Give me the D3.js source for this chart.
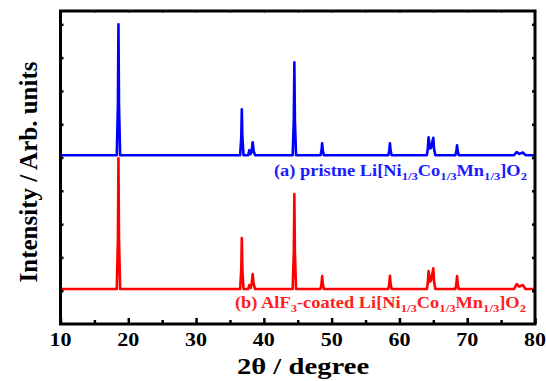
<!DOCTYPE html>
<html>
<head>
<meta charset="utf-8">
<script src="https://cdn.jsdelivr.net/npm/d3@7"></script>
<style>
  html, body { margin: 0; padding: 0; background: #fff; }
  svg text { font-family: "Liberation Serif", "Times New Roman", serif; font-weight: bold; }
</style>
</head>
<body>
<svg id="chart" width="546" height="381"></svg>
<script>
// 2θ axis ticks
const xTicks = [10, 20, 30, 40, 50, 60, 70, 80];
const xMinorTicks = [15, 25, 35, 45, 55, 65, 75];

// pattern points [2θ, intensity] (baseline = 0)
const pristine = [
  [10, 0], [18.3, 0], [18.47, 150], [18.55, 393], [18.63, 150], [18.8, 0],
  [36.5, 0], [36.67, 55], [36.75, 138], [36.83, 55], [37.0, 0],
  [37.7, 0], [37.85, 15], [38.05, 3], [38.2, 12], [38.35, 39], [38.5, 12], [38.7, 0],
  [44.25, 0], [44.42, 105], [44.5, 279], [44.58, 105], [44.75, 0],
  [48.35, 0], [48.5, 14], [48.6, 36], [48.7, 14], [48.85, 0],
  [58.35, 0], [58.5, 14], [58.6, 36], [58.7, 14], [58.85, 0],
  [64.05, 0], [64.2, 22], [64.3, 54], [64.5, 20], [64.65, 22], [65.0, 52], [65.1, 20], [65.3, 0],
  [68.25, 0], [68.4, 12], [68.5, 30], [68.6, 12], [68.75, 0],
  [76.9, 0], [77.3, 9], [77.7, 4], [78.2, 8], [78.6, 0], [80, 0]
];
const coated = [
  [10, 0], [18.3, 0], [18.47, 150], [18.55, 393], [18.63, 150], [18.8, 0],
  [36.5, 0], [36.67, 60], [36.75, 153], [36.83, 60], [37.0, 0],
  [37.7, 0], [37.85, 12], [38.05, 3], [38.2, 15], [38.35, 45], [38.5, 15], [38.7, 0],
  [44.25, 0], [44.42, 110], [44.5, 285], [44.58, 110], [44.75, 0],
  [48.35, 0], [48.5, 15], [48.6, 39], [48.7, 15], [48.85, 0],
  [58.35, 0], [58.5, 15], [58.6, 40], [58.7, 15], [58.85, 0],
  [64.05, 0], [64.2, 22], [64.3, 54], [64.5, 22], [64.65, 26], [65.0, 62], [65.1, 24], [65.3, 0],
  [68.25, 0], [68.4, 15], [68.5, 39], [68.6, 15], [68.75, 0],
  [76.9, 0], [77.3, 15], [77.7, 7], [78.2, 12], [78.6, 0], [80, 0]
];

const seriesOffsets = [507, 105];
const seriesColors = ["#0000ff", "#ff0000"];

const svg = d3.select("#chart");
const margin = { left: 60.5, right: 11, top: 11, bottom: 57 };
const W = 546, H = 381;

const x = d3.scaleLinear().domain([10, 80]).range([margin.left, W - margin.right]);
const y = d3.scaleLinear().domain([0, 940]).range([H - margin.bottom, margin.top]);
const yTicks = d3.range(100, 901, 100);

const line = d3.line().x(d => x(d[0])).y(d => y(d[1]));

[pristine, coated].forEach((data, i) => {
  svg.append("path")
    .datum(data.map(d => [d[0], d[1] + seriesOffsets[i]]))
    .attr("d", line)
    .attr("fill", "none")
    .attr("stroke", seriesColors[i])
    .attr("stroke-width", 2.6)
    .attr("stroke-linejoin", "round");
});

const x0 = x(10), x1 = x(80), y0 = y(0), y1 = y(940);

// text stretched sideways like the reference
function wideText(tx, ty, sx, size, anchor) {
  return svg.append("g")
    .attr("transform", `translate(${tx},${ty}) scale(${sx},1)`)
    .append("text")
    .attr("text-anchor", anchor)
    .attr("font-size", size)
    .attr("fill", "#000");
}

// bottom axis, inward ticks
svg.append("g").attr("transform", `translate(0,${y0})`)
  .call(d3.axisBottom(x).tickValues(xTicks).tickSize(-6).tickFormat(""))
  .call(g => g.select(".domain").remove())
  .selectAll(".tick line").attr("stroke", "#000").attr("stroke-width", 2.5);

svg.append("g").attr("transform", `translate(0,${y0})`)
  .call(d3.axisBottom(x).tickValues(xMinorTicks).tickSize(-4).tickFormat(""))
  .call(g => g.select(".domain").remove())
  .selectAll(".tick line").attr("stroke", "#000").attr("stroke-width", 2.5);

xTicks.forEach(t => wideText(x(t), 346, 1.16, 19, "middle").text(t));

// top ticks
svg.append("g").attr("transform", `translate(0,${y1})`)
  .call(d3.axisTop(x).tickValues(xTicks.concat(xMinorTicks)).tickSize(-2).tickFormat(""))
  .call(g => g.select(".domain").remove())
  .selectAll(".tick line").attr("stroke", "#777").attr("stroke-width", 1.5);

// left and right ticks
svg.append("g").attr("transform", `translate(${x0},0)`)
  .call(d3.axisLeft(y).tickValues(yTicks).tickSize(-3).tickFormat(""))
  .call(g => g.select(".domain").remove())
  .selectAll(".tick line").attr("stroke", "#000").attr("stroke-width", 2.5);
svg.append("g").attr("transform", `translate(${x1},0)`)
  .call(d3.axisRight(y).tickValues(yTicks).tickSize(-3).tickFormat(""))
  .call(g => g.select(".domain").remove())
  .selectAll(".tick line").attr("stroke", "#000").attr("stroke-width", 2.5);

svg.append("rect")
  .attr("x", x0).attr("y", y1)
  .attr("width", x1 - x0).attr("height", y0 - y1)
  .attr("fill", "none").attr("stroke", "#000").attr("stroke-width", 3);

// axis titles
wideText(303, 374, 1.22, 23.5, "middle").text("2θ / degree");

svg.append("text")
  .attr("transform", "translate(37,172) rotate(-90)")
  .attr("text-anchor", "middle").attr("font-size", 25)
  .text("Intensity / Arb. units");

// series labels with subscripts
function label(parts, xEnd, yBase, color) {
  const t = wideText(xEnd, yBase, 1.15, 16, "end").attr("fill", color);
  parts.forEach(p => {
    const s = t.append("tspan").text(p[0]);
    if (p[1]) s.attr("font-size", 11).attr("baseline-shift", "-4");
  });
}
label([["(a) pristne Li[Ni"], ["1/3", 1], ["Co"], ["1/3", 1], ["Mn"], ["1/3", 1], ["]O"], ["2", 1]],
  527, 176, "#1a1aff");
label([["(b) AlF"], ["3", 1], ["-coated Li[Ni"], ["1/3", 1], ["Co"], ["1/3", 1], ["Mn"], ["1/3", 1], ["]O"], ["2", 1]],
  526, 308, "#ff2020");
</script>
</body>
</html>
